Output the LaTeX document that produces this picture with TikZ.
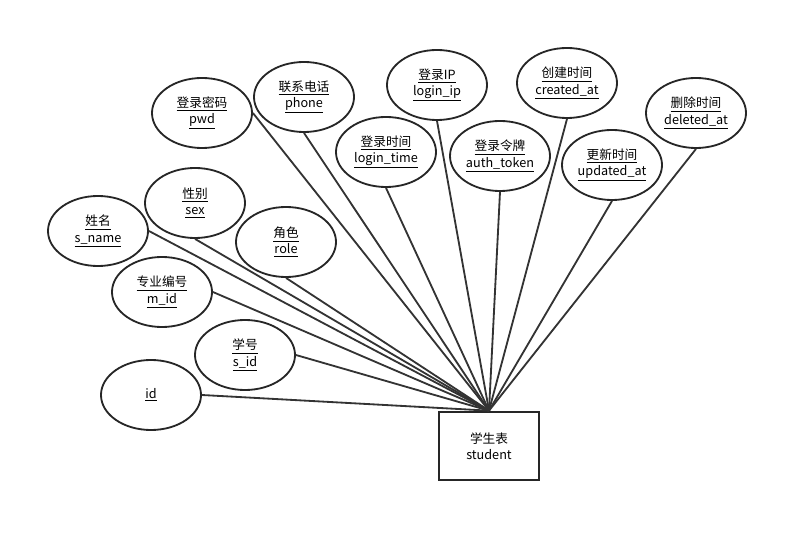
\documentclass[tikz,border=0pt]{standalone}
\usepackage{fontspec}
\setmainfont{Noto Sans CJK SC}
\usepackage{tikz}
\usetikzlibrary{positioning,shapes.geometric}

\newcommand{\attrlabel}[2]{\underline{#1}\\\underline{#2}}

\begin{document}
\begin{tikzpicture}[
    x=0.025cm, y=-0.025cm,
    font=\fontsize{9}{11.5}\selectfont,
    attr/.style={draw=black!85, ellipse, line width=1.3pt, align=center, inner sep=0pt, minimum width=2.5cm, minimum height=1.75cm},
    entity/.style={draw=black!85, line width=1.3pt, align=center, minimum width=2.5cm, minimum height=1.72cm},
    link/.style={line width=1.3pt, draw=black!80}
]
\useasboundingbox (0,0) rectangle (808,543);

% Entity
\node[entity] (stu) at (489,446) {学生表\\student};

% Attributes (top row)
\node[attr] (pwd) at (202,113) {\attrlabel{登录密码}{pwd}};
\node[attr] (phone) at (304,97) {\attrlabel{联系电话}{phone}};
\node[attr] (loginip) at (437,85) {\attrlabel{登录IP}{login\_ip}};
\node[attr] (created) at (567,83) {\attrlabel{创建时间}{created\_at}};
\node[attr] (deleted) at (696,113) {\attrlabel{删除时间}{deleted\_at}};

% Attributes (second row)
\node[attr] (logintime) at (386,152) {\attrlabel{登录时间}{login\_time}};
\node[attr] (token) at (500,156) {\attrlabel{登录令牌}{auth\_token}};
\node[attr] (updated) at (612,165) {\attrlabel{更新时间}{updated\_at}};

% Attributes (left side)
\node[attr] (sex) at (195,203) {\attrlabel{性别}{sex}};
\node[attr] (sname) at (98,231) {\attrlabel{姓名}{s\_name}};
\node[attr] (role) at (286,242) {\attrlabel{角色}{role}};
\node[attr] (mid) at (162,292) {\attrlabel{专业编号}{m\_id}};
\node[attr] (sid) at (245,355) {\attrlabel{学号}{s\_id}};
\node[attr] (id) at (151,395) {\underline{id}};

% Links to the entity (east or south side of each attribute)
\foreach \a in {pwd,sname,mid,sid,id}
    \draw[link] (\a.east) -- (stu.north);
\foreach \a in {phone,loginip,created,deleted,logintime,token,updated,sex,role}
    \draw[link] (\a.south) -- (stu.north);

\end{tikzpicture}
\end{document}
